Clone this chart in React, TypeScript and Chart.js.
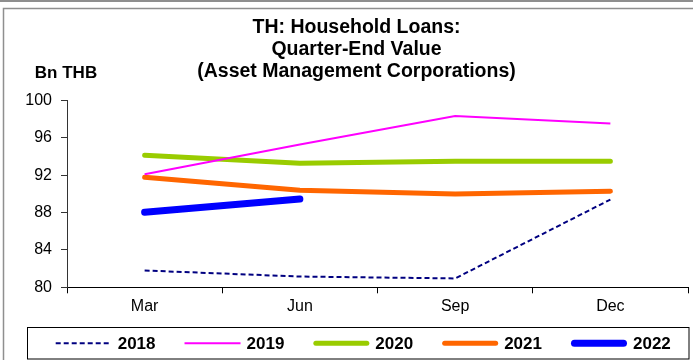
import React, { useEffect, useRef } from "react";
import { Chart, registerables } from "chart.js";

Chart.register(...registerables);

const categories = ["Mar", "Jun", "Sep", "Dec"];
const years = ["2018", "2019", "2020", "2021", "2022"];
const s2018 = [81.8, 81.15, 80.95, 89.4];
const s2019 = [92.1, 95.3, 98.35, 97.55];
const s2020 = [94.15, 93.3, 93.5, 93.5];
const s2021 = [91.8, 90.4, 90.0, 90.3];
const s2022 = [88.05, 89.45, null, null];
const titleLines = ["TH: Household Loans:", "Quarter-End Value", "(Asset Management Corporations)"];
const unitLabel = "Bn THB";
const yMin = 80;
const yMax = 100;
const yStep = 4;

const FONT = '"Liberation Sans", Arial, sans-serif';

const framePlugin = {
  id: "frame",
  beforeDraw(chart: any) {
    const { ctx, width, height } = chart;
    ctx.save();
    ctx.fillStyle = "#ffffff";
    ctx.fillRect(0, 0, width, height);
    ctx.strokeStyle = "#8f8f8f";
    ctx.lineWidth = 2;
    ctx.beginPath();
    ctx.moveTo(0, 1);
    ctx.lineTo(width, 1);
    ctx.stroke();
    ctx.lineWidth = 1.5;
    ctx.beginPath();
    ctx.moveTo(3.5, height);
    ctx.lineTo(3.5, 8.5);
    ctx.lineTo(width, 8.5);
    ctx.stroke();
    ctx.restore();
  },
  afterDraw(chart: any) {
    const { ctx, width, height } = chart;
    ctx.save();
    // unit label
    ctx.fillStyle = "#000";
    ctx.font = `bold 17px ${FONT}`;
    ctx.textAlign = "center";
    ctx.textBaseline = "middle";
    ctx.fillText(unitLabel, 66, 73);

    // legend box
    const bx = 27.5;
    const by = 327.5;
    const bw = width - 4 - bx;
    const bh = height - 1 - by;
    ctx.strokeStyle = "#000";
    ctx.lineWidth = 1;
    ctx.strokeRect(bx, by, bw, bh);

    const cy = by + bh / 2;
    const lineLen = 56;
    const gap = 6;
    const spacing = 29;
    ctx.font = `bold 17px ${FONT}`;
    const items = chart.data.datasets.map((ds: any) => ({
      ds,
      tw: ctx.measureText(ds.label).width,
    }));
    let total = 0;
    items.forEach((it: any, i: number) => {
      total += lineLen + gap + it.tw + (i > 0 ? spacing : 0);
    });
    let x = bx + bw / 2 - total / 2 + 5;
    items.forEach((it: any) => {
      const ds = it.ds;
      ctx.save();
      ctx.strokeStyle = ds.borderColor;
      ctx.lineWidth = ds.borderWidth;
      ctx.lineCap = ds.borderCapStyle || "butt";
      ctx.setLineDash(ds.borderDash || []);
      const inset = ds.borderCapStyle === "round" ? ds.borderWidth / 2 : 0;
      ctx.beginPath();
      ctx.moveTo(x + inset, cy);
      ctx.lineTo(x + lineLen - inset, cy);
      ctx.stroke();
      ctx.restore();
      ctx.fillStyle = "#000";
      ctx.textAlign = "left";
      ctx.textBaseline = "middle";
      ctx.fillText(ds.label, x + lineLen + gap, cy + 1);
      x += lineLen + gap + it.tw + spacing;
    });
    ctx.restore();
  },
};

export default function App() {
  const ref = useRef<HTMLCanvasElement | null>(null);

  useEffect(() => {
    document.body.style.margin = "0";
    const canvas = ref.current;
    if (!canvas) return;
    const chart = new Chart(canvas, {
      type: "line",
      data: {
        labels: categories,
        datasets: [
          {
            label: years[0],
            data: s2018,
            borderColor: "#000080",
            backgroundColor: "#000080",
            borderWidth: 2,
            borderDash: [5, 3],
            borderCapStyle: "butt",
            pointRadius: 0,
          },
          {
            label: years[1],
            data: s2019,
            borderColor: "#ff00ff",
            backgroundColor: "#ff00ff",
            borderWidth: 2,
            pointRadius: 0,
          },
          {
            label: years[2],
            data: s2020,
            borderColor: "#99cc00",
            backgroundColor: "#99cc00",
            borderWidth: 5,
            borderCapStyle: "round",
            borderJoinStyle: "round",
            pointRadius: 0,
          },
          {
            label: years[3],
            data: s2021,
            borderColor: "#ff6600",
            backgroundColor: "#ff6600",
            borderWidth: 5,
            borderCapStyle: "round",
            borderJoinStyle: "round",
            pointRadius: 0,
          },
          {
            label: years[4],
            data: s2022,
            borderColor: "#0000ff",
            backgroundColor: "#0000ff",
            borderWidth: 7,
            borderCapStyle: "round",
            borderJoinStyle: "round",
            pointRadius: 0,
          },
        ],
      } as any,
      options: {
        animation: false,
        responsive: true,
        maintainAspectRatio: false,
        layout: { padding: { left: 25, right: 5, top: 0, bottom: 39.5 } },
        plugins: {
          legend: { display: false },
          tooltip: { enabled: false },
          title: {
            display: true,
            text: titleLines,
            color: "#000",
            font: { family: FONT, size: 19.5, weight: "bold", lineHeight: 1.13 },
            padding: { top: 17, bottom: 17.5 },
          },
        },
        scales: {
          x: {
            offset: true,
            grid: {
              offset: true,
              drawOnChartArea: false,
              drawTicks: true,
              tickLength: 6,
              color: "#000",
            },
            border: { display: true, color: "#000", width: 1 },
            ticks: {
              color: "#000",
              font: { family: FONT, size: 16 },
              padding: 4,
              maxRotation: 0,
            },
          },
          y: {
            min: yMin,
            max: yMax,
            afterFit: (scale: any) => {
              scale.width = 42;
            },
            grid: {
              drawOnChartArea: false,
              drawTicks: true,
              tickLength: 6,
              color: "#333",
            },
            border: { display: true, color: "#333", width: 1 },
            ticks: {
              stepSize: yStep,
              color: "#000",
              font: { family: FONT, size: 16 },
              padding: 9,
            },
          },
        },
      },
      plugins: [framePlugin],
    });
    return () => chart.destroy();
  }, []);

  return (
    <div style={{ width: 693, height: 360, position: "relative" }}>
      <canvas ref={ref} />
    </div>
  );
}
